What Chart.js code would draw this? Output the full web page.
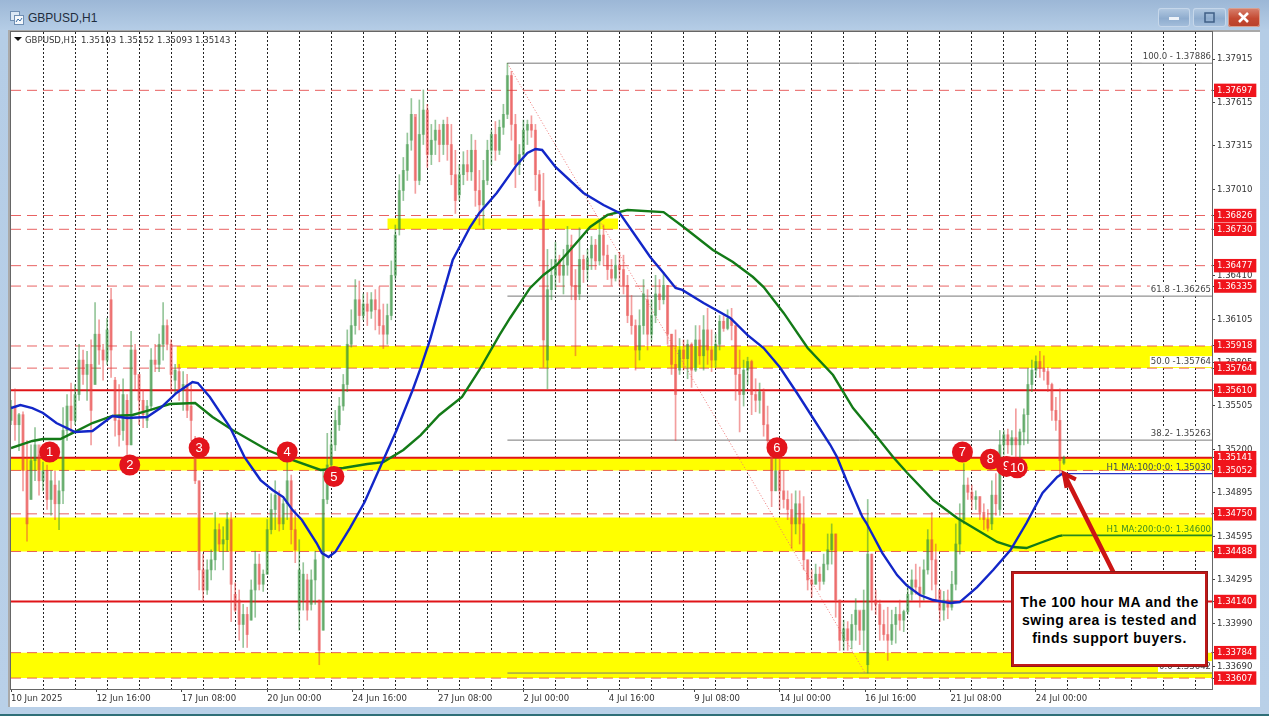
<!DOCTYPE html>
<html><head><meta charset="utf-8">
<style>
html,body{margin:0;padding:0;width:1269px;height:716px;overflow:hidden}
body{position:relative;background:linear-gradient(#9cb7d6,#b5cde6 30px,#b9d0e8);font-family:"Liberation Sans",Arial,sans-serif}
#foot{position:absolute;left:0;top:714px;width:1269px;height:2px;background:#2f6f78}
#panel{position:absolute;left:8px;top:30px;width:1252px;height:677px;background:#fff;box-shadow:inset 2px 2px 0 #a9a9a9}
canvas{position:absolute;left:0;top:0}
#title{position:absolute;left:28px;top:11px;font-size:12px;color:#1f2d3d}
#icon{position:absolute;left:10px;top:11px}
.btn{position:absolute;top:8px;height:19px;border-radius:3px;background:linear-gradient(#b4cae2,#8eacce 55%,#a5bfdc);box-shadow:inset 0 0 0 1px #c6d7ea}
#b3{background:linear-gradient(#d8826f,#c44a32 55%,#b8402a);box-shadow:inset 0 0 0 1px #d9a090}
#hdr{position:absolute;left:25px;top:34px;font:9.5px "DejaVu Sans Condensed","DejaVu Sans";color:#333;white-space:pre}
#tri{position:absolute;left:14px;top:37px;width:0;height:0;border-left:4px solid transparent;border-right:4px solid transparent;border-top:4px solid #111}
#note{position:absolute;left:1012px;top:572px;width:191px;border:2px solid #c01818;outline:1px solid #8c1a1a;background:#fff;color:#000;font-weight:bold;font-size:14px;line-height:18px;letter-spacing:.55px;text-align:center;padding-top:19px;box-sizing:content-box;height:71px;white-space:nowrap}
</style></head><body>
<div id="foot"></div><div id="panel"></div>
<svg id="icon" width="14" height="14"><rect x="0.5" y="0.5" width="9" height="9" fill="#dbe8f5" stroke="#6f8fb3"/><rect x="4.5" y="4.5" width="9" height="9" fill="#f4f8fc" stroke="#6f8fb3"/><path d="M6 11l2-3 2 2 2-3" fill="none" stroke="#3a6ea5"/></svg>
<div id="title">GBPUSD,H1</div>
<div class="btn" style="left:1158px;width:32px"><svg width="32" height="19"><rect x="11" y="9" width="10" height="3" fill="#eef3f9"/></svg></div>
<div class="btn" style="left:1193px;width:33px"><svg width="33" height="19"><rect x="12" y="5" width="9" height="9" fill="none" stroke="#3f5f86" stroke-width="1.5"/></svg></div>
<div class="btn" id="b3" style="left:1228px;width:32px"><svg width="32" height="19"><path d="M11 5l9 9M20 5l-9 9" stroke="#fff" stroke-width="2.6"/></svg></div>
<canvas id="c" width="1269" height="716"></canvas>
<div id="tri"></div><div id="hdr">GBPUSD,H1  1.35103 1.35152 1.35093 1.35143</div>
<div id="note">The 100 hour MA and the<br>swing area is tested and<br>finds support buyers.</div>
<script src="https://cdn.jsdelivr.net/npm/chart.js@4/dist/chart.umd.min.js"></script>
<script>
const xLabels=["10 Jun 2025","12 Jun 16:00","17 Jun 08:00","20 Jun 00:00","24 Jun 16:00","27 Jun 08:00","2 Jul 00:00","4 Jul 16:00","9 Jul 08:00","14 Jul 00:00","16 Jul 16:00","21 Jul 08:00","24 Jul 00:00"];
const priceTicks=[1.37915,1.37615,1.37315,1.37010,1.36410,1.36105,1.35805,1.35505,1.35200,1.34895,1.34595,1.34295,1.33990,1.33690];
const dashedLevels=[1.37697,1.36826,1.36730,1.36477,1.36335,1.35918,1.35764,1.35052,1.34750,1.34488,1.33784,1.33607];
const solidLevels=[1.35610,1.35141,1.34140];
const fibValues=[1.37886,1.36265,1.35263,1.33642];
const fibLabels=["100.0 - 1.37886","61.8 -1.36265","50.0 -1.35764","38.2- 1.35263","0.0-1.33642"];
const fibLabelPrices=[1.37886,1.36265,1.35764,1.35263,1.33642];
const zoneTop=[1.36805,1.35918,1.35141,1.34725,1.33784];
const zoneBottom=[1.36730,1.35764,1.35052,1.34488,1.33607];
const zoneFrom=[282,124,0,0,0];
const zoneTo=[455,900,900,900,900];

const highs=[
1.3554,1.3562,1.3545,1.3546,1.3526,1.3523,1.3535,1.3516,1.3511,1.3509,
1.3505,1.3505,1.3498,1.3549,1.3558,1.3566,1.3565,1.3593,1.3589,1.3588,
1.3596,1.3622,1.3610,1.3593,1.3611,1.3632,1.3570,1.3565,1.3569,1.3558,
1.3602,1.3593,1.3572,1.3561,1.3554,1.3590,1.3593,1.3600,1.3622,1.3610,
1.3596,1.3579,1.3579,1.3574,1.3572,1.3565,1.3529,1.3498,1.3447,1.3443,
1.3450,1.3476,1.3468,1.3466,1.3476,1.3476,1.3427,1.3422,1.3412,1.3410,
1.3429,1.3449,1.3447,1.3436,1.3471,1.3489,1.3498,1.3491,1.3485,1.3511,
1.3502,1.3478,1.3457,1.3441,1.3433,1.3436,1.3449,1.3415,1.3505,1.3531,
1.3533,1.3547,1.3556,1.3572,1.3603,1.3617,1.3638,1.3637,1.3628,1.3629,
1.3629,1.3631,1.3633,1.3621,1.3621,1.3651,1.3676,1.3711,1.3723,1.3740,
1.3764,1.3751,1.3763,1.3770,1.3760,1.3746,1.3749,1.3746,1.3749,1.3751,
1.3746,1.3728,1.3718,1.3727,1.3728,1.3739,1.3735,1.3714,1.3721,1.3735,
1.3742,1.3748,1.3749,1.3760,1.37886,1.3783,1.3753,1.3732,1.3749,1.3749,
1.3752,1.3746,1.3714,1.3712,1.3659,1.3652,1.3664,1.3655,1.3659,1.3675,
1.3669,1.3645,1.3674,1.3655,1.3659,1.3668,1.3666,1.3678,1.3676,1.3662,
1.3652,1.3655,1.3657,1.3655,1.3641,1.3627,1.3610,1.3617,1.3638,1.3631,
1.3624,1.3641,1.3638,1.3643,1.3634,1.3600,1.3603,1.3597,1.3596,1.3596,
1.3594,1.3606,1.3606,1.3613,1.3618,1.3603,1.3600,1.3613,1.3613,1.3617,
1.3618,1.3606,1.3589,1.3582,1.3584,1.3582,1.3569,1.3566,1.3562,1.3550,
1.3526,1.3514,1.3514,1.3505,1.3491,1.3489,1.3491,1.3491,1.3487,1.3443,
1.3436,1.3440,1.3438,1.3447,1.3461,1.3468,1.3461,1.3415,1.3401,1.3400,
1.3405,1.3416,1.3407,1.3422,1.3485,1.3447,1.3422,1.3415,1.3408,1.3410,
1.3408,1.3410,1.3415,1.3408,1.3426,1.3436,1.3440,1.3438,1.3443,1.3464,
1.3476,1.3454,1.3422,1.3421,1.3422,1.3435,1.3468,1.3482,1.3510,1.3500,
1.3495,1.3491,1.3487,1.3482,1.3478,1.3498,1.3503,1.3533,1.3533,1.3534,
1.3533,1.3548,1.3534,1.3548,1.3576,1.3582,1.3585,1.3588,1.3585,1.3577,
1.3566,1.3556,1.3562,1.35152];
const lows=[
1.3537,1.3526,1.3519,1.3491,1.3456,1.3485,1.3498,1.3488,1.3491,1.3478,
1.3474,1.3471,1.3464,1.3482,1.3526,1.3530,1.3537,1.3554,1.3565,1.3554,
1.3523,1.3565,1.3579,1.3568,1.3579,1.3570,1.3529,1.3522,1.3526,1.3516,
1.3523,1.3561,1.3537,1.3535,1.3535,1.3547,1.3574,1.3574,1.3582,1.3589,
1.3559,1.3558,1.3554,1.3547,1.3542,1.3526,1.3496,1.3422,1.3415,1.3419,
1.3429,1.3436,1.3449,1.3436,1.3449,1.3400,1.3407,1.3387,1.3382,1.3382,
1.3401,1.3403,1.3422,1.3421,1.3433,1.3461,1.3464,1.3463,1.3464,1.3471,
1.3454,1.3441,1.3394,1.3408,1.3401,1.3408,1.3412,1.3370,1.3394,1.3482,
1.3505,1.3519,1.3533,1.3547,1.3560,1.3591,1.3600,1.3603,1.3610,1.3606,
1.3611,1.3603,1.3600,1.3590,1.3593,1.3610,1.3638,1.3669,1.3693,1.3707,
1.3728,1.3698,1.3704,1.3732,1.3716,1.3718,1.3725,1.3720,1.3725,1.3721,
1.3704,1.3684,1.3693,1.3704,1.3707,1.3707,1.3689,1.3676,1.3673,1.3704,
1.3718,1.3721,1.3725,1.3739,1.3750,1.3735,1.3702,1.3711,1.3721,1.3732,
1.3737,1.3700,1.3689,1.3577,1.3562,1.3624,1.3631,1.3636,1.3628,1.3641,
1.3624,1.3585,1.3624,1.3636,1.3638,1.3645,1.3645,1.3648,1.3648,1.3638,
1.3634,1.3637,1.3634,1.3628,1.3608,1.3600,1.3575,1.3582,1.3600,1.3589,
1.3596,1.3608,1.3617,1.3621,1.3593,1.3572,1.3526,1.3572,1.3575,1.3569,
1.3563,1.3574,1.3579,1.3575,1.3579,1.3574,1.3577,1.3589,1.3602,1.3603,
1.3596,1.3554,1.3532,1.3550,1.3565,1.3544,1.3546,1.3545,1.3529,1.3523,
1.3480,1.3491,1.3478,1.3479,1.3471,1.3451,1.3461,1.3454,1.3436,1.3422,
1.3417,1.3426,1.3422,1.3426,1.3436,1.3440,1.3403,1.3380,1.3380,1.3380,
1.3381,1.3387,1.3384,1.3380,1.33642,1.3408,1.3405,1.3387,1.3387,1.3373,
1.3384,1.3385,1.3394,1.3393,1.3405,1.3415,1.3419,1.3410,1.3415,1.3433,
1.3422,1.3415,1.3400,1.3401,1.3402,1.3408,1.3422,1.3447,1.3468,1.3485,
1.3478,1.3478,1.3471,1.3464,1.3463,1.3464,1.3474,1.3474,1.3516,1.3517,
1.3516,1.3514,1.3512,1.3523,1.3524,1.3560,1.3570,1.3570,1.3568,1.3560,
1.3540,1.3533,1.3503,1.35093];
const opens=[
1.3540,1.3550,1.3537,1.3544,1.3505,1.3485,1.3512,1.3523,1.3498,1.3505,
1.3485,1.3495,1.3482,1.3491,1.3533,1.3550,1.3540,1.3558,1.3582,1.3572,
1.3579,1.3565,1.3600,1.3589,1.3582,1.3624,1.3568,1.3540,1.3533,1.3554,
1.3523,1.3589,1.3572,1.3554,1.3540,1.3550,1.3582,1.3579,1.3593,1.3606,
1.3593,1.3568,1.3574,1.3561,1.3565,1.3550,1.3526,1.3498,1.3436,1.3422,
1.3436,1.3443,1.3464,1.3454,1.3457,1.3471,1.3419,1.3415,1.3398,1.3405,
1.3401,1.3422,1.3440,1.3426,1.3433,1.3464,1.3478,1.3488,1.3468,1.3482,
1.3498,1.3464,1.3408,1.3415,1.3429,1.3412,1.3429,1.3415,1.3394,1.3485,
1.3509,1.3523,1.3537,1.3550,1.3565,1.3593,1.3606,1.3624,1.3613,1.3621,
1.3616,1.3624,1.3617,1.3606,1.3600,1.3613,1.3641,1.3673,1.3700,1.3714,
1.3735,1.3753,1.3707,1.3739,1.3756,1.3725,1.3735,1.3742,1.3732,1.3746,
1.3732,1.3711,1.3697,1.3711,1.3718,1.3713,1.3728,1.3700,1.3690,1.3707,
1.3728,1.3739,1.3728,1.3744,1.3753,1.3780,1.3746,1.3718,1.3725,1.3742,
1.3746,1.3742,1.3711,1.3693,1.3582,1.3631,1.3641,1.3652,1.3641,1.3648,
1.3662,1.3634,1.3628,1.3652,1.3645,1.3653,1.3662,1.3651,1.3669,1.3655,
1.3645,1.3639,1.3648,1.3645,1.3634,1.3613,1.3606,1.3589,1.3606,1.3624,
1.3600,1.3613,1.3628,1.3624,1.3634,1.3600,1.3579,1.3575,1.3589,1.3583,
1.3593,1.3575,1.3596,1.3585,1.3603,1.3589,1.3582,1.3593,1.3609,1.3604,
1.3611,1.3606,1.3572,1.3558,1.3575,1.3581,1.3558,1.3554,1.3560,1.3537,
1.3526,1.3491,1.3505,1.3491,1.3485,1.3478,1.3468,1.3482,1.3468,1.3443,
1.3429,1.3426,1.3433,1.3428,1.3440,1.3450,1.3461,1.3415,1.3387,1.3395,
1.3387,1.3398,1.3408,1.3394,1.3370,1.3447,1.3415,1.3412,1.3398,1.3391,
1.3387,1.3398,1.3405,1.3401,1.3407,1.3419,1.3429,1.3424,1.3419,1.3436,
1.3457,1.3443,1.3422,1.3408,1.3415,1.3410,1.3426,1.3454,1.3471,1.3495,
1.3490,1.3485,1.3487,1.3476,1.3471,1.3468,1.3488,1.3478,1.3523,1.3530,
1.3523,1.3528,1.3523,1.3532,1.3544,1.3565,1.3575,1.3581,1.3576,1.3574,
1.3565,1.3547,1.3540,1.35103];
const closes=[
1.3550,1.3537,1.3544,1.3505,1.3468,1.3512,1.3523,1.3498,1.3505,1.3485,
1.3498,1.3482,1.3491,1.3533,1.3550,1.3540,1.3558,1.3582,1.3572,1.3579,
1.3547,1.3600,1.3589,1.3582,1.3603,1.3589,1.3540,1.3530,1.3558,1.3523,
1.3589,1.3572,1.3554,1.3544,1.3550,1.3582,1.3579,1.3593,1.3606,1.3593,
1.3572,1.3575,1.3561,1.3565,1.3547,1.3540,1.3498,1.3436,1.3422,1.3436,
1.3443,1.3464,1.3454,1.3457,1.3471,1.3426,1.3408,1.3398,1.3405,1.3391,
1.3422,1.3440,1.3426,1.3433,1.3464,1.3478,1.3488,1.3468,1.3482,1.3498,
1.3464,1.3450,1.3436,1.3433,1.3408,1.3429,1.3443,1.3380,1.3485,1.3509,
1.3523,1.3540,1.3550,1.3565,1.3593,1.3606,1.3624,1.3613,1.3621,1.3616,
1.3624,1.3617,1.3606,1.3600,1.3613,1.3641,1.3669,1.3700,1.3714,1.3732,
1.3753,1.3707,1.3739,1.3756,1.3725,1.3735,1.3742,1.3732,1.3746,1.3732,
1.3711,1.3693,1.3711,1.3718,1.3713,1.3728,1.3700,1.3690,1.3707,1.3728,
1.3739,1.3728,1.3744,1.3753,1.3780,1.3746,1.3718,1.3725,1.3742,1.3746,
1.3742,1.3711,1.3693,1.3596,1.3631,1.3641,1.3652,1.3641,1.3648,1.3662,
1.3634,1.3624,1.3652,1.3645,1.3653,1.3662,1.3651,1.3669,1.3655,1.3645,
1.3639,1.3648,1.3645,1.3634,1.3613,1.3606,1.3589,1.3606,1.3628,1.3600,
1.3613,1.3628,1.3624,1.3634,1.3600,1.3579,1.3558,1.3589,1.3583,1.3593,
1.3575,1.3596,1.3585,1.3603,1.3589,1.3582,1.3593,1.3609,1.3604,1.3611,
1.3606,1.3572,1.3558,1.3575,1.3581,1.3558,1.3554,1.3560,1.3537,1.3526,
1.3491,1.3505,1.3491,1.3485,1.3478,1.3468,1.3482,1.3468,1.3443,1.3429,
1.3426,1.3433,1.3428,1.3440,1.3450,1.3461,1.3415,1.3387,1.3395,1.3387,
1.3398,1.3408,1.3394,1.3408,1.3447,1.3415,1.3412,1.3398,1.3391,1.3387,
1.3398,1.3405,1.3401,1.3407,1.3419,1.3429,1.3424,1.3419,1.3436,1.3457,
1.3443,1.3426,1.3408,1.3415,1.3410,1.3426,1.3454,1.3471,1.3495,1.3490,
1.3485,1.3487,1.3476,1.3471,1.3465,1.3488,1.3482,1.3523,1.3530,1.3523,
1.3528,1.3523,1.3532,1.3544,1.3565,1.3575,1.3581,1.3576,1.3574,1.3565,
1.3547,1.3540,1.3512,1.35143];
const candleStepHours=3;

const ma100Hours=[0,7,16,24,34,48,61,69,76,87,102,112,124,136,140,149,164,175,187,196,204,211,218,229,233,238,243,254,265,279,289,301,307,314,325,331,344,351,364,379,387,393,398,408,429,444,456,466,479,489,498,503,519,539,552,564,576,589,601,614,619,626,638,641,653,664,671,681,691,704,711,724,736,749,761,773,784,788];
const ma100Values=[1.35486,1.35507,1.35486,1.35452,1.35382,1.35319,1.35326,1.35382,1.35431,1.35417,1.35424,1.35486,1.35591,1.35667,1.3566,1.35563,1.35354,1.35145,1.34985,1.34916,1.34867,1.34776,1.34707,1.34547,1.34477,1.34449,1.34484,1.34651,1.34832,1.35124,1.35333,1.35612,1.35765,1.3596,1.36322,1.36516,1.36746,1.36844,1.36983,1.37178,1.37261,1.37289,1.37282,1.37164,1.36983,1.36899,1.36844,1.36711,1.36537,1.36426,1.36322,1.36308,1.36217,1.36113,1.35994,1.35904,1.35772,1.35591,1.35417,1.35229,1.35145,1.34985,1.34728,1.34686,1.34477,1.34324,1.34254,1.34185,1.3415,1.34129,1.34136,1.3424,1.34359,1.34498,1.34686,1.34895,1.35006,1.3503];
const ma200Hours=[0,16,24,37,46,61,76,91,104,119,138,151,166,192,207,232,249,267,279,294,307,321,338,351,366,374,389,399,409,421,434,447,462,489,504,526,541,556,564,579,597,616,631,649,661,671,691,709,724,739,751,761,771,785,788];
const ma200Values=[1.35208,1.35257,1.35271,1.35271,1.35312,1.35382,1.35431,1.35438,1.35472,1.35514,1.35521,1.35424,1.35333,1.35194,1.35138,1.35055,1.35069,1.35097,1.3511,1.35194,1.35298,1.35438,1.35563,1.35751,1.35994,1.36113,1.36322,1.36412,1.36482,1.36607,1.36746,1.3683,1.36864,1.3685,1.36746,1.36586,1.36502,1.36398,1.36328,1.36148,1.35904,1.35716,1.35486,1.35284,1.35145,1.35041,1.34846,1.34721,1.34637,1.34554,1.34519,1.34512,1.34547,1.34595,1.346];
const ma100Last=1.35030, ma200Last=1.34600;
const maLabels=["H1 MA:100:0:0: 1.35030","H1 MA:200:0:0: 1.34600"];

const markerText=["1","2","3","4","5","6","7","8","9","10"];
const markerHours=[29,89,141,207,242,574,713,734,746,754];
const markerPrices=[1.3518,1.3509,1.3521,1.3518,1.3501,1.3521,1.3518,1.3513,1.3508,1.3507];
const trendHours=[372,640];
const trendPrices=[1.37886,1.33642];

const SMALL='"DejaVu Sans Condensed","DejaVu Sans"';
const UP='rgba(52,145,62,.52)',DOWN='rgba(232,62,62,.5)';
const candles=highs.map((h,i)=>({x:i*candleStepHours,o:opens[i],c:closes[i],h,l:lows[i]}));
const candleColors=candles.map(k=>k.c>=k.o?UP:DOWN);
const line=(data,color,width,extra)=>Object.assign({type:'line',data,borderColor:color,borderWidth:width,pointRadius:0,fill:false,tension:0},extra||{});
const full=v=>[{x:0,y:v},{x:900,y:v}];
const datasets=[];
zoneTop.forEach((t,i)=>datasets.push(line([{x:zoneFrom[i],y:t},{x:zoneTo[i],y:t}],'rgba(0,0,0,0)',0,{fill:{value:zoneBottom[i]},backgroundColor:'#ffff00',order:60})));
fibValues.forEach(v=>datasets.push(line([{x:372,y:v},{x:900,y:v}],'#777',1,{order:50})));
datasets.push(line(trendHours.map((x,i)=>({x,y:trendPrices[i]})),'#ee7777',1,{borderDash:[1,2],order:50}));
dashedLevels.forEach(v=>datasets.push(line(full(v),'rgba(228,70,70,.85)',1,{borderDash:[10,6],order:40})));
solidLevels.forEach(v=>datasets.push(line(full(v),'#e01418',2,{order:40})));
datasets.push({type:'bar',data:candles.map(k=>({x:k.x,y:[k.l,k.h]})),backgroundColor:candleColors,barThickness:1,grouped:false,order:30});
datasets.push({type:'bar',data:candles.map(k=>({x:k.x,y:[Math.min(k.o,k.c),Math.max(k.o,k.c)]})),backgroundColor:candleColors,barThickness:2.4,grouped:false,order:29});
datasets.push(line(ma200Hours.map((x,i)=>({x,y:ma200Values[i]})),'#137a17',2.4,{order:20}));
datasets.push(line([{x:788,y:ma200Last},{x:900,y:ma200Last}],'#2a8a1e',1.6,{order:20}));
datasets.push(line(ma100Hours.map((x,i)=>({x,y:ma100Values[i]})),'#1226c8',2.4,{order:19}));
datasets.push(line([{x:788,y:ma100Last},{x:900,y:ma100Last}],'#2436c8',1.4,{order:19}));
datasets.push(line([{x:826,y:1.34345},{x:789,y:1.3503}],'#cc1414',4.5,{order:10}));
datasets.push(line([{x:791,y:1.3493},{x:789,y:1.3503},{x:798,y:1.3499}],'#cc1414',4,{order:10}));
const markerSet=(from,to)=>({type:'scatter',isMarker:true,markerFrom:from,data:markerHours.slice(from,to).map((x,i)=>({x,y:markerPrices[from+i]})),backgroundColor:'#e3141c',pointRadius:10.5,pointBorderWidth:0,order:to===10?1:2});
datasets.push(markerSet(0,9));
datasets.push(markerSet(9,10));

const annotate={id:'annotate',
 afterDatasetDraw(chart,args){
  const ds=chart.data.datasets[args.index];
  if(!ds.isMarker)return;
  const c=chart.ctx,xs=chart.scales.x,ys=chart.scales.y;
  c.save();c.fillStyle='#fff';c.font='13px "Liberation Sans"';c.textAlign='center';c.textBaseline='middle';
  ds.data.forEach((p,i)=>c.fillText(markerText[ds.markerFrom+i],xs.getPixelForValue(p.x),ys.getPixelForValue(p.y)+.5));
  c.restore();
 },
 beforeDatasetsDraw(chart){
  const a=chart.chartArea,c=chart.ctx;
  c.save();c.strokeStyle='#666';c.lineWidth=1;c.strokeRect(a.left-.5,a.top-.5,a.right-a.left+1,a.bottom-a.top+1);c.restore();
 },
 afterDatasetsDraw(chart){
  const c=chart.ctx,ys=chart.scales.y,R=chart.chartArea.right-1;
  c.save();c.font='9.5px '+SMALL;c.textAlign='right';c.textBaseline='bottom';
  fibLabels.forEach((t,i)=>{const y=ys.getPixelForValue(fibLabelPrices[i]),w=c.measureText(t).width;
   c.fillStyle='#fff';c.fillRect(R-w-1,y-12,w+2,11);
   c.fillStyle='#444';c.fillText(t,R,y-1.5);});
  c.fillStyle='#3a4a5a';c.fillText(maLabels[0],R,ys.getPixelForValue(ma100Last)-1);
  c.fillStyle='#3f8f20';c.fillText(maLabels[1],R,ys.getPixelForValue(ma200Last)-1);
  c.restore();
 }};

new Chart(document.getElementById('c'),{
 type:'bar',
 data:{datasets},
 plugins:[annotate],
 options:{
  responsive:false,animation:false,
  layout:{padding:{left:11,top:32,right:0,bottom:0}},
  plugins:{legend:{display:false},tooltip:{enabled:false}},
  scales:{
   x:{type:'linear',min:0,max:900,offset:false,
    afterBuildTicks(s){const t=[];for(let v=0;v<=900;v+=8)if(v%24===0||v%64===0)t.push({value:v});s.ticks=t;},
    afterFit(s){s.height=27;s.paddingLeft=0;s.paddingRight=0;},
    border:{color:'#666',dash:[2,2]},
    grid:{offset:false,color:c=>c.tick&&c.tick.value%24===0&&c.tick.value>0?'#222':'rgba(0,0,0,0)',lineWidth:1,
      tickColor:c=>c.tick&&c.tick.value%64===0?'#444':'rgba(0,0,0,0)',tickLength:3,tickBorderDash:[]},
    ticks:{autoSkip:false,maxRotation:0,minRotation:0,align:'start',padding:1,color:'#333',font:{family:SMALL,size:9.5},
      callback:v=>v%64===0?xLabels[v/64]:''}
   },
   y:{type:'linear',position:'right',min:1.33531,max:1.38103,
    afterBuildTicks(s){s.ticks=priceTicks.concat(dashedLevels,solidLevels).map(value=>({value}));},
    afterFit(s){s.width=57;s.paddingTop=0;s.paddingBottom=0;},
    border:{color:'#666'},
    grid:{drawOnChartArea:false,tickLength:3,tickColor:'#444'},
    ticks:{autoSkip:false,padding:2,font:{family:SMALL,size:9.5},
      color:c=>priceTicks.includes(c.tick.value)?'#333':'#fff',
      showLabelBackdrop:c=>!priceTicks.includes(c.tick.value),
      backdropColor:'#f0141c',backdropPadding:{left:3,right:4,top:1,bottom:1},
      callback:v=>v.toFixed(5)}
   }
  }
 }
});
</script>
</body></html>
